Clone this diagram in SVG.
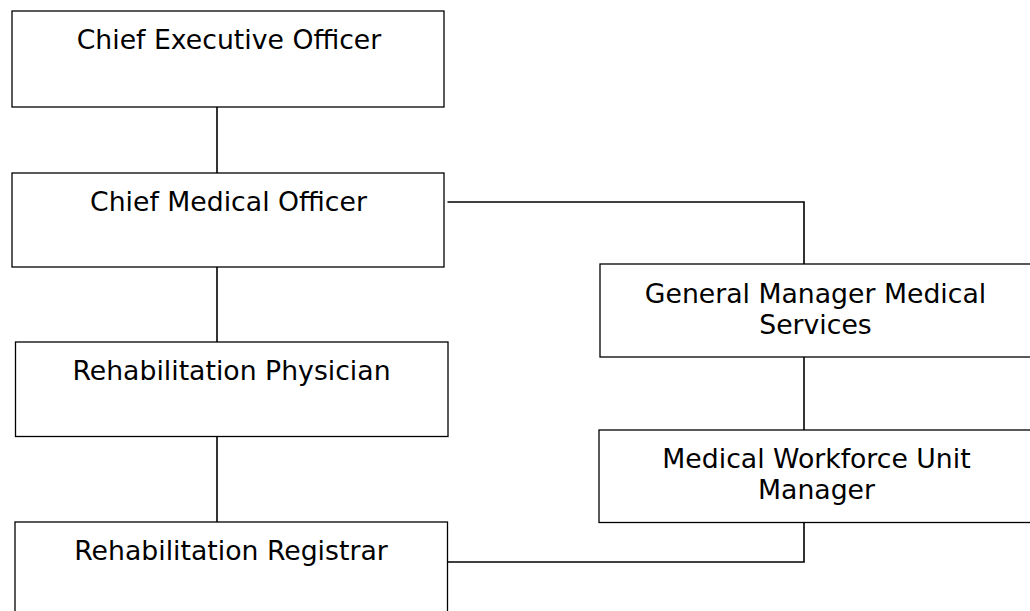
<svg xmlns="http://www.w3.org/2000/svg" width="1030" height="611" viewBox="0 0 1030 611">
<style>
.box{fill:#fff;stroke:#000;stroke-width:1.3}
.ln{fill:none;stroke:#000;stroke-width:1.6}
text{font-family:"DejaVu Sans",Verdana,sans-serif;font-size:26.7px;fill:#000;text-anchor:middle}
</style>
<rect width="1030" height="611" fill="#fff"/>
<g id="connectors">
<line class="ln" x1="217" y1="107" x2="217" y2="173"/>
<line class="ln" x1="217" y1="267" x2="217" y2="342"/>
<line class="ln" x1="217" y1="436" x2="217" y2="522"/>
<polyline class="ln" points="447.5,202 804,202 804,264"/>
<line class="ln" x1="804" y1="357" x2="804" y2="430"/>
<polyline class="ln" points="804,522 804,562 447.5,562"/>
</g>
<g id="ceo">
<rect class="box" x="12" y="11" width="432" height="96"/>
<text x="229" y="49">Chief Executive Officer</text>
</g>
<g id="cmo">
<rect class="box" x="12" y="173" width="432" height="94"/>
<text x="228.5" y="210.5">Chief Medical Officer</text>
</g>
<g id="rp">
<rect class="box" x="15.5" y="342" width="432.5" height="94.5"/>
<text x="231.5" y="379.5">Rehabilitation Physician</text>
</g>
<g id="rr">
<rect class="box" x="15" y="522" width="432.5" height="100"/>
<text x="231" y="559.5">Rehabilitation Registrar</text>
</g>
<g id="gm">
<rect class="box" x="600" y="264" width="432" height="93"/>
<text x="815.5" y="302.5">General Manager Medical</text>
<text x="815.5" y="334">Services</text>
</g>
<g id="mwu">
<rect class="box" x="599" y="430" width="433" height="92.5"/>
<text x="816.5" y="467.5">Medical Workforce Unit</text>
<text x="816.5" y="498.5">Manager</text>
</g>
</svg>
